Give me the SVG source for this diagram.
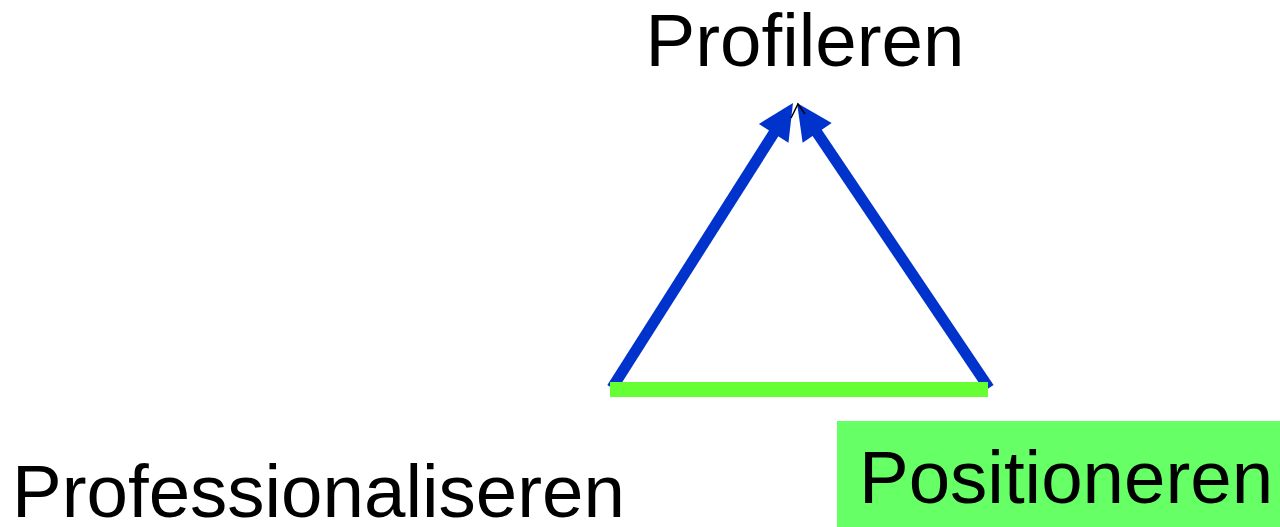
<svg xmlns="http://www.w3.org/2000/svg" width="1280" height="527" viewBox="0 0 1280 527">
  <style>
    .label { font-family: "Liberation Sans", Arial, sans-serif; font-size: 74.5px; fill: #000; }
    .arrow { stroke: #0033cc; stroke-width: 11; fill: none; marker-end: url(#head); }
  </style>
  <defs>
    <!-- solid triangular head; its tip sits 30px beyond the line end -->
    <marker id="head" markerUnits="userSpaceOnUse" markerWidth="45" markerHeight="40" viewBox="-10 -20 45 40" refX="0" refY="0" orient="auto">
      <path d="M30,0 L-6,-17.5 L-6,17.5 Z" fill="#0033cc"/>
    </marker>
  </defs>
  <rect width="1280" height="527" fill="#ffffff"/>

  <g id="connectors">
    <line class="arrow" x1="612" y1="388" x2="776.9" y2="128.3"/>
    <line class="arrow" x1="989" y1="388" x2="813.8" y2="127.9"/>
    <path d="M791,118 L798,104 L805,114" fill="none" stroke="#000" stroke-width="1.5"/>
    <rect x="610" y="382" width="378" height="15" fill="#66ff33"/>
  </g>

  <g id="node-profileren">
    <text class="label" x="805" y="66" text-anchor="middle">Profileren</text>
  </g>

  <g id="node-professionaliseren">
    <text class="label" x="12" y="517">Professionaliseren</text>
  </g>

  <g id="node-positioneren">
    <rect x="837" y="421" width="443" height="106" fill="#66ff66"/>
    <text class="label" x="859" y="503">Positioneren</text>
  </g>
</svg>
